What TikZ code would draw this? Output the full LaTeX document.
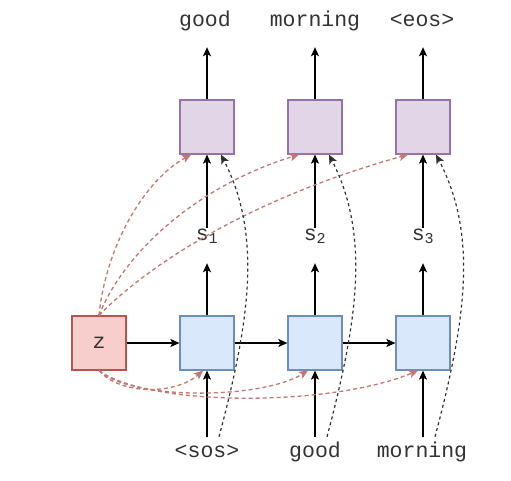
\documentclass[tikz,border=0pt]{standalone}
\usepackage{fontspec}
\newfontfamily\monofnt{Liberation Mono}
\usetikzlibrary{arrows.meta,calc}
\definecolor{pfill}{HTML}{E1D5E7}
\definecolor{pdraw}{HTML}{9673A6}
\definecolor{bfill}{HTML}{DAE8FC}
\definecolor{bdraw}{HTML}{6C8EBF}
\definecolor{rfill}{HTML}{F8CECC}
\definecolor{rdraw}{HTML}{B85450}
\begin{document}
\begin{tikzpicture}[x=1pt,y=-1pt,
  cell/.style={draw, line width=1.2pt, minimum size=54pt, inner sep=0pt, anchor=center},
  pcell/.style={cell, fill=pfill, draw=pdraw},
  bcell/.style={cell, fill=bfill, draw=bdraw},
  zcell/.style={cell, fill=rfill, draw=rdraw, font=\monofnt\fontsize{21.5}{24}\selectfont, text=black!80},
  lbl/.style={font=\monofnt\fontsize{21.5}{24}\selectfont, text=black!80, inner sep=0pt, text height=12pt, text depth=5pt, anchor=base},
  flow/.style={line width=1.3pt, -{Stealth[length=9pt,width=8pt,inset=2pt]}},
  rflow/.style={line width=1.3pt, draw=rdraw!80, dash pattern=on 4pt off 3pt, -{Stealth[length=9pt,width=8pt,inset=2pt,fill=rdraw!80]}},
  dflow/.style={line width=1.2pt, draw=black!80, dash pattern=on 3pt off 3pt, -{Stealth[length=9pt,width=8pt,inset=2pt,fill=black!85]}}
]
\fill[white] (0,0) rectangle (511,480);
\useasboundingbox (0,0) rectangle (511,480);

% cells
\node[zcell] (z) at (99,343) {z};
\node[bcell] (b1) at (207,343) {};
\node[bcell] (b2) at (315,343) {};
\node[bcell] (b3) at (423,343) {};
\node[pcell] (p1) at (207,127) {};
\node[pcell] (p2) at (315,127) {};
\node[pcell] (p3) at (423,127) {};

% labels
\node[lbl] (o1) at (205,26) {good};
\node[lbl] (o2) at (315,26) {morning};
\node[lbl] (o3) at (422,26) {<eos>};
\node[lbl] (s1) at (207,240) {s\textsubscript{1}};
\node[lbl] (s2) at (315,240) {s\textsubscript{2}};
\node[lbl] (s3) at (423,240) {s\textsubscript{3}};
\node[lbl] (i1) at (207,457) {<sos>};
\node[lbl] (i2) at (315,457) {good};
\node[lbl] (i3) at (422,457) {morning};

% solid arrows
\foreach \k in {1,2,3}{
  \draw[flow, shorten >=16pt] (p\k.north) -- (p\k.north |- o\k.south);
  \draw[flow, shorten <=20pt] (s\k.north) -- (p\k.south |- s\k.north) -- (p\k.south);
  \draw[flow, shorten >=18pt] (b\k.north) -- (b\k.north |- s\k.south);
  \draw[flow, shorten <=8pt] (b\k.south |- i\k.north) -- (b\k.south);
}
\draw[flow] (z) -- (b1);
\draw[flow] (b1) -- (b2);
\draw[flow] (b2) -- (b3);

% red dashed from z to decoder outputs
\draw[rflow] (z.north) .. controls (106,245) and (145,180) .. ([xshift=-16pt]p1.south);
\draw[rflow] (z.north) .. controls (125,250) and (200,185) .. ([xshift=-16pt]p2.south);
\draw[rflow] (z.north) .. controls (145,268) and (245,200) .. ([xshift=-15pt]p3.south);

% red dashed from z to decoder inputs
\draw[rflow] (z.south) .. controls (120,395) and (175,395) .. ([xshift=-4pt]b1.south);
\draw[rflow] (z.south) .. controls (130,400) and (260,400) .. ([xshift=-7pt]b2.south);
\draw[rflow] (z.south) .. controls (150,407) and (330,407) .. ([xshift=-5pt]b3.south);

% black dashed from inputs to outputs
\draw[dflow] ([xshift=12pt,yshift=8pt]i1.north) .. controls (250,320) and (262,235) .. ([xshift=14pt]p1.south);
\draw[dflow] ([xshift=12pt,yshift=8pt]i2.north) .. controls (358,320) and (370,235) .. ([xshift=14pt]p2.south);
\draw[dflow] ([xshift=13pt,yshift=8pt]i3.north) .. controls (466,320) and (478,235) .. ([xshift=13pt]p3.south);
\end{tikzpicture}
\end{document}
